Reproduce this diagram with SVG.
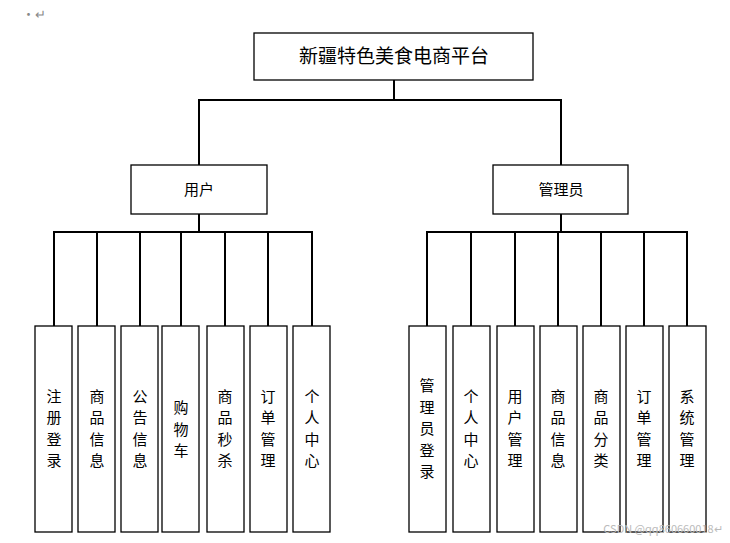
<svg xmlns="http://www.w3.org/2000/svg" width="730" height="543" viewBox="0 0 730 543">
<style>
.b{fill:#fff;stroke:#000;stroke-width:1.3}
.c{fill:none;stroke:#000;stroke-width:2}
text{font-family:"Noto Sans CJK SC","Liberation Sans",sans-serif;fill:#000;text-anchor:middle}
.t{font-size:15px}
</style>
<rect width="730" height="543" fill="#fff"/>
<text x="34" y="19" font-size="13" fill="#888" style="fill:#888">·↵</text>
<g id="connectors">
<path class="c" d="M394 80V100M199 100H561M199 99V165M561 99V165"/>
<path class="c" d="M199 214V232M54 232H312M54 231V326M97 231V326M140 231V326M181 231V326M225 231V326M268 231V326M312 231V326"/>
<path class="c" d="M561 214V232M427 232H687M427 231V326M471 231V326M515 231V326M558 231V326M601 231V326M644 231V326M687 231V326"/>
</g>
<g id="root"><rect class="b" x="254" y="33" width="279" height="47"/><text x="394" y="63" font-size="19">新疆特色美食电商平台</text></g>
<g id="user"><rect class="b" x="131" y="165" width="136" height="49"/><text class="t" x="199" y="195">用户</text></g>
<g id="admin"><rect class="b" x="493" y="165" width="135" height="49"/><text class="t" x="561" y="195">管理员</text></g>
<g id="u1"><rect class="b" x="35" y="326" width="37" height="206"/><text class="t" x="54"><tspan x="54" y="402">注</tspan><tspan x="54" y="423">册</tspan><tspan x="54" y="445">登</tspan><tspan x="54" y="466">录</tspan></text></g>
<g id="u2"><rect class="b" x="78" y="326" width="37" height="206"/><text class="t"><tspan x="97" y="402">商</tspan><tspan x="97" y="423">品</tspan><tspan x="97" y="445">信</tspan><tspan x="97" y="466">息</tspan></text></g>
<g id="u3"><rect class="b" x="121" y="326" width="37" height="206"/><text class="t"><tspan x="140" y="402">公</tspan><tspan x="140" y="423">告</tspan><tspan x="140" y="445">信</tspan><tspan x="140" y="466">息</tspan></text></g>
<g id="u4"><rect class="b" x="162" y="326" width="37" height="206"/><text class="t"><tspan x="181" y="413">购</tspan><tspan x="181" y="435">物</tspan><tspan x="181" y="456">车</tspan></text></g>
<g id="u5"><rect class="b" x="207" y="326" width="37" height="206"/><text class="t"><tspan x="225" y="402">商</tspan><tspan x="225" y="423">品</tspan><tspan x="225" y="445">秒</tspan><tspan x="225" y="466">杀</tspan></text></g>
<g id="u6"><rect class="b" x="250" y="326" width="37" height="206"/><text class="t"><tspan x="268" y="402">订</tspan><tspan x="268" y="423">单</tspan><tspan x="268" y="445">管</tspan><tspan x="268" y="466">理</tspan></text></g>
<g id="u7"><rect class="b" x="293" y="326" width="37" height="206"/><text class="t"><tspan x="312" y="402">个</tspan><tspan x="312" y="423">人</tspan><tspan x="312" y="445">中</tspan><tspan x="312" y="466">心</tspan></text></g>
<g id="a1"><rect class="b" x="409" y="326" width="37" height="206"/><text class="t"><tspan x="427" y="391">管</tspan><tspan x="427" y="413">理</tspan><tspan x="427" y="434">员</tspan><tspan x="427" y="456">登</tspan><tspan x="427" y="477">录</tspan></text></g>
<g id="a2"><rect class="b" x="453" y="326" width="37" height="206"/><text class="t"><tspan x="471" y="402">个</tspan><tspan x="471" y="423">人</tspan><tspan x="471" y="445">中</tspan><tspan x="471" y="466">心</tspan></text></g>
<g id="a3"><rect class="b" x="497" y="326" width="37" height="206"/><text class="t"><tspan x="515" y="402">用</tspan><tspan x="515" y="423">户</tspan><tspan x="515" y="445">管</tspan><tspan x="515" y="466">理</tspan></text></g>
<g id="a4"><rect class="b" x="540" y="326" width="37" height="206"/><text class="t"><tspan x="558" y="402">商</tspan><tspan x="558" y="423">品</tspan><tspan x="558" y="445">信</tspan><tspan x="558" y="466">息</tspan></text></g>
<g id="a5"><rect class="b" x="583" y="326" width="37" height="206"/><text class="t"><tspan x="601" y="402">商</tspan><tspan x="601" y="423">品</tspan><tspan x="601" y="445">分</tspan><tspan x="601" y="466">类</tspan></text></g>
<g id="a6"><rect class="b" x="626" y="326" width="37" height="206"/><text class="t"><tspan x="644" y="402">订</tspan><tspan x="644" y="423">单</tspan><tspan x="644" y="445">管</tspan><tspan x="644" y="466">理</tspan></text></g>
<g id="a7"><rect class="b" x="669" y="326" width="37" height="206"/><text class="t"><tspan x="687" y="402">系</tspan><tspan x="687" y="423">统</tspan><tspan x="687" y="445">管</tspan><tspan x="687" y="466">理</tspan></text></g>
<text x="663" y="533" font-size="11" style="fill:#bbb">CSDN @qq860660018↵</text>
</svg>
